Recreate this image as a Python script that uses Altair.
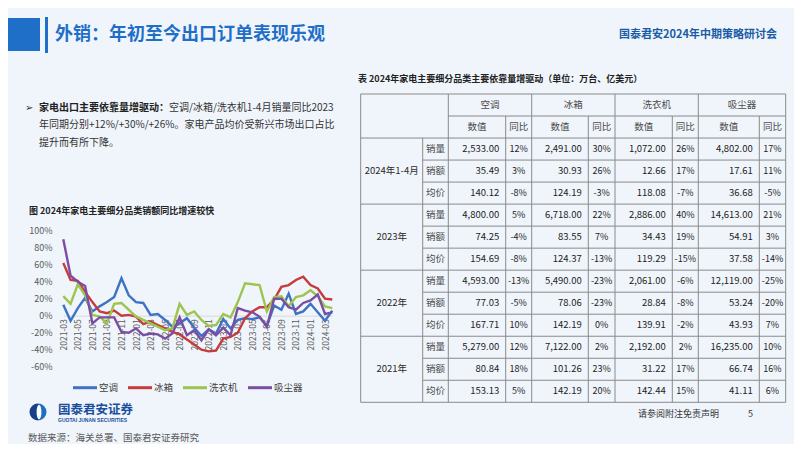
import altair as alt
import pandas as pd

FONT = "Noto Sans CJK SC"

# ---------------- data ----------------
months = ["2021-03", "2021-04", "2021-05", "2021-06", "2021-07", "2021-08", "2021-09", "2021-10",
          "2021-11", "2021-12", "2022-01", "2022-02", "2022-03", "2022-04", "2022-05", "2022-06",
          "2022-07", "2022-08", "2022-09", "2022-10", "2022-11", "2022-12", "2023-01", "2023-02",
          "2023-03", "2023-04", "2023-05", "2023-06", "2023-07", "2023-08", "2023-09", "2023-10",
          "2023-11", "2023-12", "2024-01", "2024-02", "2024-03", "2024-04"]
month_ticks = ["2021-03", "2021-05", "2021-07", "2021-09", "2021-11", "2022-01", "2022-03",
               "2022-05", "2022-07", "2022-09", "2022-11", "2023-01", "2023-03", "2023-05",
               "2023-07", "2023-09", "2023-11", "2024-01", "2024-03"]
y_ticks = [-60, -40, -20, 0, 20, 40, 60, 80, 100]

products = ["空调", "冰箱", "洗衣机", "吸尘器"]
colors = ["#3F72C4", "#C63B3B", "#9CC44E", "#7A4EA2"]

ac_yoy = [13, -6, 9, 21, 5, 11, 16, 22, 44, 24, 16, 15, 1, 2, -5, -13, -9, -3, -14, -24,
          -16, -21, -4, -15, -5, -3, -4, -2, -12, 12, 7, 26, 2, 5, 14, 4, -6, 6]
fridge_yoy = [62, 42, 41, 28, 16, 5, 3, 6, 0, 1, -1, -10, -7, -11, -15, -19, -22, -28, -34, -40,
              -42, -41, -27, -25, -20, -3, 5, 10, 10, 19, 34, 36, 42, 46, 36, 32, 20, 19]
washer_yoy = [23, 14, 37, 24, 1, -1, -9, 14, 15, 7, -1, -5, -9, -13, -17, -15, 14, 1, 5, -5,
              -12, -11, 2, -2, 16, 38, 37, 36, 5, 22, 23, 11, 22, 24, 30, 23, 11, 9]
vacuum_yoy = [90, 47, 40, 35, -9, -2, -2, -2, -19, -20, -15, -23, -21, -22, -27, -21, -2, -23,
              -17, -29, -16, -23, -14, -23, 9, 6, 4, -1, -13, 20, 20, 10, 7, 15, 18, 25, 2, 4]

# table
periods = ["2024年1-4月", "2023年", "2022年", "2021年"]
metrics = ["销量", "销额", "均价"]
sub_headers = ["数值", "同比"]
# rows: period x metric (销量, 销额, 均价)
ac_val = [2533.00, 35.49, 140.12, 4800.00, 74.25, 154.69, 4593.00, 77.03, 167.71, 5279.00, 80.84, 153.13]
ac_pct = [12, 3, -8, 5, -4, -8, -13, -5, 10, 12, 18, 5]
fr_val = [2491.00, 30.93, 124.19, 6718.00, 83.55, 124.37, 5490.00, 78.06, 142.19, 7122.00, 101.26, 142.19]
fr_pct = [30, 26, -3, 22, 7, -13, -23, -23, 0, 2, 23, 20]
wa_val = [1072.00, 12.66, 118.08, 2886.00, 34.43, 119.29, 2061.00, 28.84, 139.91, 2192.00, 31.22, 142.44]
wa_pct = [26, 17, -7, 40, 19, -15, -6, -8, -2, 2, 17, 15]
va_val = [4802.00, 17.61, 36.68, 14613.00, 54.91, 37.58, 12119.00, 53.24, 43.93, 16235.00, 66.74, 41.11]
va_pct = [17, 11, -5, 21, 3, -14, -25, -20, 7, 10, 16, 6]

W, H = 786, 436

# ---------------- helpers ----------------
ONE = alt.Data(values=[{"k": 1}])


def text(s, x, y, size, color, weight="normal", align="left", font=FONT):
    return alt.Chart(alt.Data(values=[{"t": s}])).mark_text(
        align=align, baseline="middle", fontSize=size, color=color,
        fontWeight=weight, font=font
    ).encode(x=alt.value(x), y=alt.value(y), text="t:N")


def box(x1, x2, y1, y2, color):
    return alt.Chart(ONE).mark_rect(color=color).encode(
        x=alt.value(x1), x2=alt.value(x2), y=alt.value(y1), y2=alt.value(y2))


layers = []

# ---------------- header ----------------
layers.append(box(0, 32, 10, 43, "#1F6FC9"))
layers.append(box(37, 40, 9, 45, "#1F6FC9"))
layers.append(text("外销：年初至今出口订单表现乐观", 47, 27, 18, "#1F6FC9", "bold"))
layers.append(text("国泰君安2024年中期策略研讨会", 611, 27, 11, "#1A5BA6", "bold"))

# ---------------- bullet text ----------------
layers.append(text("➢", 17, 99.5, 10, "#333333", font="DejaVu Sans"))
layers.append(text("家电出口主要依靠量增驱动：", 31, 99.5, 10, "#222222", "bold"))
layers.append(text("空调/冰箱/洗衣机1-4月销量同比2023", 161, 99.5, 10, "#333333"))
layers.append(text("年同期分别+12%/+30%/+26%。家电产品均价受新兴市场出口占比", 31, 117, 10, "#333333"))
layers.append(text("提升而有所下降。", 31, 134.5, 10, "#333333"))

layers.append(text("图 2024年家电主要细分品类销额同比增速较快", 21, 203, 9, "#222222", "bold"))

# ---------------- line chart ----------------
series_map = dict(zip(products, [ac_yoy, fridge_yoy, washer_yoy, vacuum_yoy]))
rows = []
for p in products:
    for m, v in zip(months, series_map[p]):
        rows.append({"month": m, "series": p, "value": v, "ord": products.index(p)})
df_lines = pd.DataFrame(rows)

lines = alt.Chart(df_lines).mark_line(strokeWidth=2.4).encode(
    x=alt.X("month:O",
            scale=alt.Scale(type="point", domain=months, range=[55.3, 324.3], padding=0),
            axis=alt.Axis(values=month_ticks, labelAngle=-90, labelFontSize=8.5,
                          labelColor="#595959", ticks=False, domainColor="#D9D9D9",
                          domainWidth=1, labelPadding=3, offset=-128.3, title=None,
                          grid=False, labelOverlap=False, labelBound=False)),
    y=alt.Y("value:Q",
            scale=alt.Scale(domain=[-60, 100], range=[358.7, 222.7], nice=False, zero=False),
            axis=alt.Axis(values=y_ticks, labelExpr="datum.value + '%'", offset=-46,
                          domain=False, ticks=False, grid=False, labelFontSize=9,
                          labelColor="#595959", labelPadding=2, title=None,
                          labelOverlap=False)),
    color=alt.Color("series:N", sort=products,
                    scale=alt.Scale(domain=products, range=colors), legend=None),
    order=alt.Order("ord:Q"),
    detail="series:N",
)
layers.append(lines)

# legend (drawn manually so the entries sit where the reference has them)
leg_x = [65, 120, 175, 240]
df_leg = pd.DataFrame({"name": products, "c": colors, "x": leg_x,
                       "x2": [v + 24 for v in leg_x], "tx": [v + 26 for v in leg_x]})
leg_lines = alt.Chart(df_leg).mark_rule(strokeWidth=3).encode(
    x=alt.X("x:Q", scale=None), x2="x2:Q", y=alt.value(379.7),
    color=alt.Color("c:N", scale=None))
leg_text = alt.Chart(df_leg).mark_text(align="left", baseline="middle", fontSize=9.5,
                                       color="#404040", font=FONT).encode(
    x=alt.X("tx:Q", scale=None), y=alt.value(379.7), text="name:N")
layers += [leg_lines, leg_text]

# ---------------- table ----------------
layers.append(text("表 2024年家电主要细分品类主要依靠量增驱动（单位：万台、亿美元）", 350, 71, 9, "#222222", "bold"))

E = [0, 62, 87.6, 145, 171, 227.6, 254.3, 311.6, 337.6, 398.6, 425]
NROWS = 14
tx = alt.Scale(domain=[0, 425], range=[352.7, 777.7], nice=False, zero=False)
ty = alt.Scale(domain=[0, NROWS], range=[86, 394.3], nice=False, zero=False)

segs = []
segs.append({"x1": E[0], "x2": E[10], "y1": 0, "y2": 0})
segs.append({"x1": E[2], "x2": E[10], "y1": 1, "y2": 1})
segs.append({"x1": E[0], "x2": E[10], "y1": 2, "y2": 2})
for r in range(3, NROWS + 1):
    start = E[0] if (r - 2) % 3 == 0 else E[1]
    segs.append({"x1": start, "x2": E[10], "y1": r, "y2": r})
for i in [0, 2, 4, 6, 8, 10]:
    segs.append({"x1": E[i], "x2": E[i], "y1": 0, "y2": NROWS})
segs.append({"x1": E[1], "x2": E[1], "y1": 2, "y2": NROWS})
for i in [3, 5, 7, 9]:
    segs.append({"x1": E[i], "x2": E[i], "y1": 1, "y2": NROWS})
df_segs = pd.DataFrame(segs)

grid = alt.Chart(df_segs).mark_rule(color="#8A8A8A", strokeWidth=1).encode(
    x=alt.X("x1:Q", scale=tx, axis=None), x2="x2:Q",
    y=alt.Y("y1:Q", scale=ty, axis=None), y2="y2:Q")
layers.append(grid)

vals = [ac_val, fr_val, wa_val, va_val]
pcts = [ac_pct, fr_pct, wa_pct, va_pct]

center_cells = []
right_cells = []
for k, p in enumerate(products):
    center_cells.append({"x": (E[2 + 2 * k] + E[4 + 2 * k]) / 2, "y": 0.5, "t": p, "fs": 9.5, "c": "#4A4A4A"})
    center_cells.append({"x": (E[2 + 2 * k] + E[3 + 2 * k]) / 2, "y": 1.5, "t": sub_headers[0], "fs": 9.5, "c": "#4A4A4A"})
    center_cells.append({"x": (E[3 + 2 * k] + E[4 + 2 * k]) / 2, "y": 1.5, "t": sub_headers[1], "fs": 9.5, "c": "#4A4A4A"})
for g, per in enumerate(periods):
    center_cells.append({"x": (E[0] + E[1]) / 2, "y": 2 + 3 * g + 1.5, "t": per, "fs": 9.5, "c": "#2A2A2A"})
    for m, met in enumerate(metrics):
        r = 3 * g + m
        yc = 2 + r + 0.5
        center_cells.append({"x": (E[1] + E[2]) / 2, "y": yc, "t": met, "fs": 9.5, "c": "#4A4A4A"})
        for k in range(4):
            right_cells.append({"x": E[3 + 2 * k] - 6.5, "y": yc, "t": f"{vals[k][r]:,.2f}", "fs": 9.5, "c": "#222222"})
            center_cells.append({"x": (E[3 + 2 * k] + E[4 + 2 * k]) / 2, "y": yc, "t": f"{pcts[k][r]}%", "fs": 9, "c": "#222222"})

df_center = pd.DataFrame(center_cells)
df_right = pd.DataFrame(right_cells)

ctext = alt.Chart(df_center).mark_text(align="center", baseline="middle", font=FONT).encode(
    x=alt.X("x:Q", scale=tx, axis=None), y=alt.Y("y:Q", scale=ty, axis=None),
    text="t:N", size=alt.Size("fs:Q", scale=None), color=alt.Color("c:N", scale=None))
rtext = alt.Chart(df_right).mark_text(align="right", baseline="middle", font=FONT).encode(
    x=alt.X("x:Q", scale=tx, axis=None), y=alt.Y("y:Q", scale=ty, axis=None),
    text="t:N", size=alt.Size("fs:Q", scale=None), color=alt.Color("c:N", scale=None))
layers.append(ctext)
layers.append(rtext)

# ---------------- footer ----------------
logo_l = alt.Chart(ONE).mark_arc(radius=8.5, theta=3.14159, theta2=6.28318, color="#163F8C").encode(
    x=alt.value(30), y=alt.value(404))
logo_r = alt.Chart(ONE).mark_arc(radius=8.5, theta=0, theta2=3.14159, color="#1E6FC0").encode(
    x=alt.value(30), y=alt.value(404))
logo_w = alt.Chart(ONE).mark_point(
    shape="M0,-1 C0.45,-1 0.45,1 0,1 C-0.45,1 -0.45,-1 0,-1 Z",
    filled=True, color="white", opacity=1, size=200).encode(x=alt.value(31), y=alt.value(404))
layers += [logo_l, logo_r, logo_w]
layers.append(text("国泰君安证券", 50, 402, 12.5, "#1B4F9C", "bold"))
layers.append(text("GUOTAI JUNAN SECURITIES", 50, 411.5, 5, "#1B4F9C", "bold", font="Liberation Sans"))
layers.append(text("数据来源：海关总署、国泰君安证券研究", 20, 430, 9.5, "#595959"))
layers.append(text("请参阅附注免责声明", 630, 406, 9, "#333333"))
layers.append(text("5", 740, 406, 9, "#333333"))

chart = alt.layer(*layers).resolve_scale(
    x="independent", y="independent", color="independent", size="independent"
).properties(
    width=W, height=H, padding=0,
    autosize=alt.AutoSizeParams(type="none"),
    background="#F0F5FB",
).configure(font=FONT).configure_view(stroke=None)

chart.save("out.html", embed_options={"renderer": "svg", "actions": False})
